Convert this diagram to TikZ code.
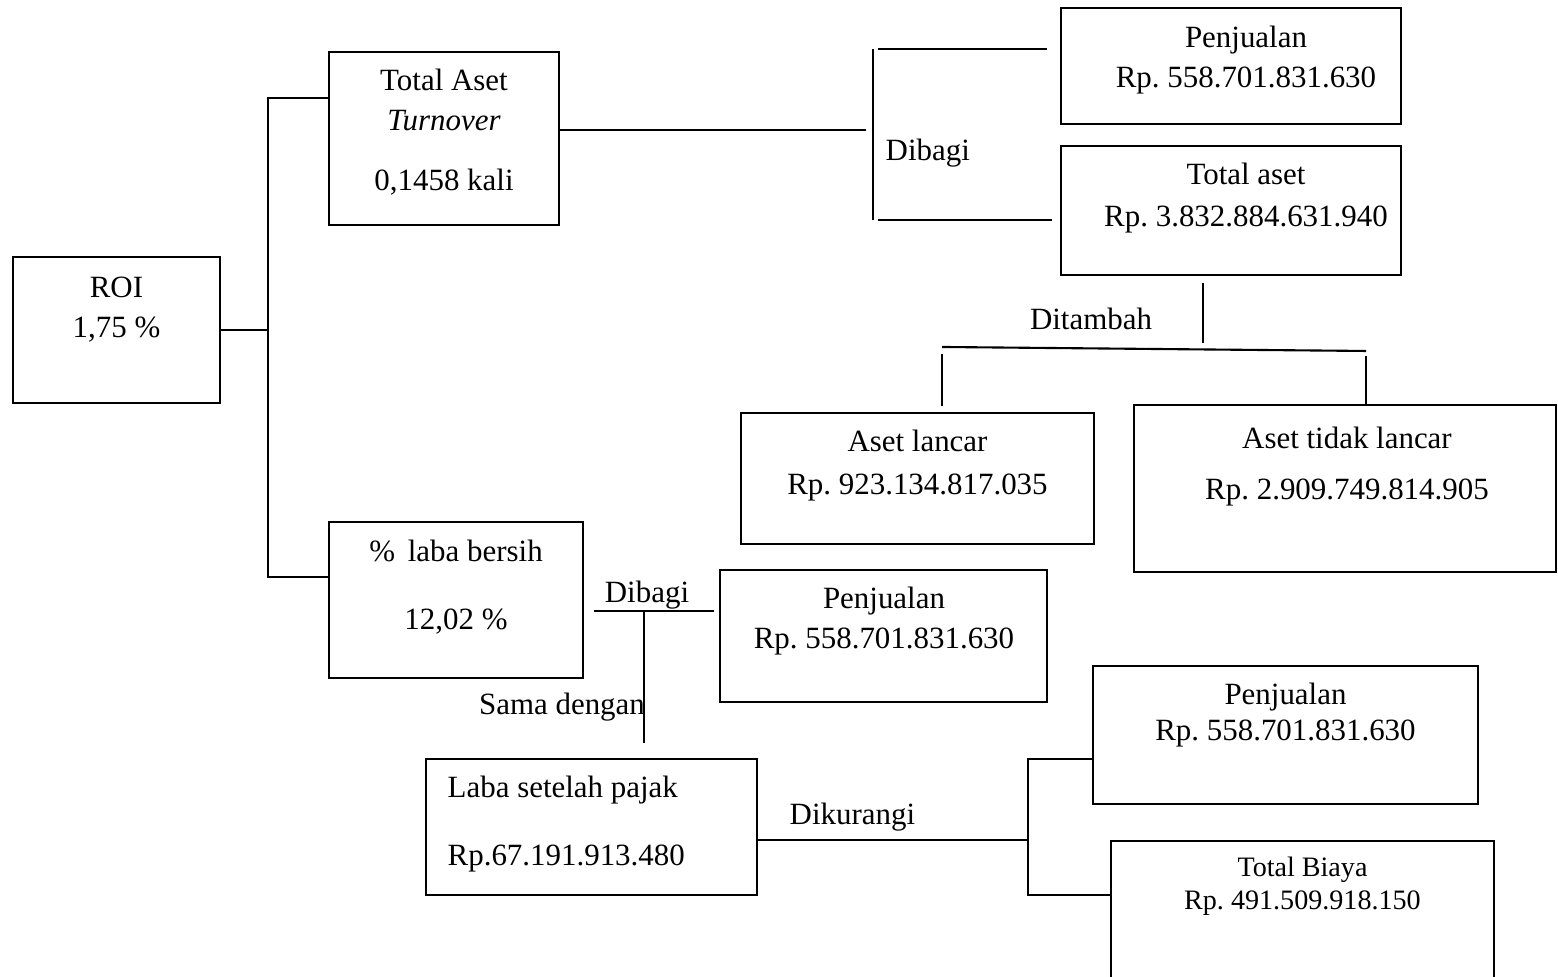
\documentclass[tikz,border=0pt]{standalone}
\usepackage{fontspec}
\setmainfont{Liberation Serif}
\usetikzlibrary{positioning}
\frenchspacing

\begin{document}
\begin{tikzpicture}[
    every node/.style={font=\fontsize{8.8}{11.4}\selectfont, align=center},
    box/.style={draw, line width=0.7pt, inner sep=0pt},
    txt/.style={inner sep=0pt},
    line/.style={line width=0.6pt}
]
\useasboundingbox (0,0) rectangle (15.58,9.77);

% Boxes
\node[box, minimum width=2.07cm, minimum height=1.46cm] (roi) at (1.165,6.47) {};
\node[box, minimum width=2.30cm, minimum height=1.73cm] (ta) at (4.44,8.385) {};
\node[box, minimum width=3.40cm, minimum height=1.16cm] (jual1) at (12.31,9.11) {};
\node[box, minimum width=3.40cm, minimum height=1.29cm] (aset) at (12.31,7.665) {};
\node[box, minimum width=3.53cm, minimum height=1.31cm] (lancar) at (9.175,4.985) {};
\node[box, minimum width=4.22cm, minimum height=1.67cm] (tlancar) at (13.45,4.885) {};
\node[box, minimum width=2.54cm, minimum height=1.56cm] (npm) at (4.56,3.77) {};
\node[box, minimum width=3.27cm, minimum height=1.32cm] (jual2) at (8.835,3.41) {};
\node[box, minimum width=3.31cm, minimum height=1.36cm] (eat) at (5.915,1.50) {};
\node[box, minimum width=3.85cm, minimum height=1.38cm] (jual3) at (12.855,2.42) {};
\node[box, minimum width=3.83cm, minimum height=1.56cm] (biaya) at (13.025,0.58) {};

% Texts in the boxes
\node[txt] (roitxt) at (1.165,6.67) {ROI\\1,75 \%};
\node[txt] (tatxt) at (4.44,8.45) {Total Aset\\\textit{Turnover}\\[0.2cm]0,1458 kali};
\node[txt] (jual1txt) at (12.46,9.17) {Penjualan\\Rp. 558.701.831.630};
\node[txt] (asettxt) at (12.46,7.79) {Total aset\\[0.5pt]Rp. 3.832.884.631.940};
\node[txt] (lancartxt) at (9.175,5.115) {Aset lancar\\[1pt]Rp. 923.134.817.035};
\node[txt] (tlancartxt) at (13.47,5.105) {Aset tidak lancar\\[3pt]Rp. 2.909.749.814.905};
\node[txt] (npmtxt) at (4.56,3.895) {\% \,laba bersih\\[8pt]12,02 \%};
\node[txt] (jual2txt) at (8.84,3.56) {Penjualan\\Rp. 558.701.831.630};
\node[txt, anchor=west, align=left] (eattxt) at (4.47,1.53) {Laba setelah pajak\\[8pt]Rp.67.191.913.480};
\node[txt] (jual3txt) at (12.855,2.62) {Penjualan\\[-1pt]Rp. 558.701.831.630};
\node[txt, font=\fontsize{8}{9.4}\selectfont] (biayatxt) at (13.025,0.91) {Total Biaya\\Rp. 491.509.918.150};

% Labels
\node[txt, anchor=west] (bagi1) at (8.85,8.24) {Dibagi};
\node[txt] (tambah) at (10.91,6.58) {Ditambah};
\node[txt] (bagi2) at (6.47,3.82) {Dibagi};
\node[txt] (sama) at (5.62,2.70) {Sama dengan};
\node[txt, anchor=west] (kurang) at (7.89,1.60) {Dikurangi};

% Lines
\coordinate (sp1) at (2.68,8.79);
\coordinate (sp2) at (2.68,4.00);
\draw[line] (roi.east) -- (roi.east -| sp1);
\draw[line] (ta.west |- sp1) -- (sp1) -- (sp2) -- (npm.west |- sp2);

\coordinate (d1) at (8.66,8.47);
\coordinate (br1) at (8.73,9.28);
\coordinate (br2) at (8.73,7.57);
\coordinate (br1a) at (8.78,9.28);
\coordinate (br1b) at (10.47,9.28);
\coordinate (br2a) at (8.78,7.57);
\coordinate (br2b) at (10.52,7.57);
\draw[line] (ta.east |- d1) -- (d1);
\draw[line] (br1) -- (br2);
\draw[line] (br1a) -- (br1b);
\draw[line] (br2a) -- (br2b);

\coordinate (t1) at (12.03,6.94);
\coordinate (t2) at (12.03,6.34);
\coordinate (h1) at (9.42,6.30);
\coordinate (h2) at (13.66,6.26);
\coordinate (dl1) at (9.42,6.23);
\coordinate (dl2) at (9.42,5.71);
\coordinate (dr1) at (13.66,6.21);
\coordinate (dr2) at (13.66,5.73);
\draw[line] (t1) -- (t2);
\draw[line] (h1) -- (h2);
\draw[line] (dl1) -- (dl2);
\draw[line] (dr1) -- (dr2);

\coordinate (m1) at (5.94,3.66);
\coordinate (m2) at (7.14,3.66);
\coordinate (m3) at (6.44,3.66);
\coordinate (m4) at (6.44,2.34);
\draw[line] (m1) -- (m2);
\draw[line] (m3) -- (m4);

\coordinate (k0) at (10.28,1.37);
\coordinate (k1) at (10.28,2.18);
\coordinate (k2) at (10.28,0.82);
\draw[line] (eat.east |- k0) -- (k0);
\draw[line] (jual3.west |- k1) -- (k1) -- (k2) -- (biaya.west |- k2);

\end{tikzpicture}
\end{document}
